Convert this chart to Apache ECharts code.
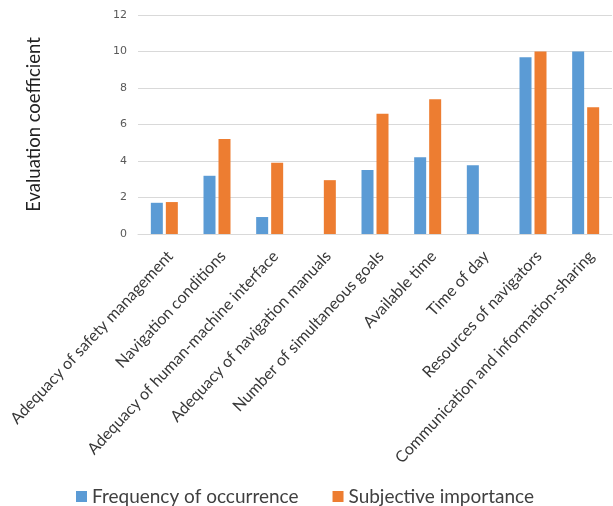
<!DOCTYPE html>
<html>
<head>
<meta charset="utf-8">
<script src="https://cdn.jsdelivr.net/npm/echarts@6/dist/echarts.min.js"></script>
<style>
  html, body { margin: 0; padding: 0; background: #fff; }
  #chart { width: 613px; height: 506px; }
</style>
</head>
<body>
<div id="chart"></div>
<script>
// Factors evaluated for navigational risk
const categories = [
  'Adequacy of safety management',
  'Navigation conditions',
  'Adequacy of human-machine interface',
  'Adequacy of navigation manuals',
  'Number of simultaneous goals',
  'Available time',
  'Time of day',
  'Resources of navigators',
  'Communication and information-sharing'
];
const frequency = [1.71, 3.19, 0.93, null, 3.51, 4.21, 3.77, 9.69, 10.0];
const importance = [1.75, 5.21, 3.91, 2.95, 6.59, 7.38, null, 10.0, 6.94];
const yTicks = { min: 0, max: 12, interval: 2 };

const chart = echarts.init(document.getElementById('chart'), null, { renderer: 'canvas' });

chart.setOption({
  animation: false,
  backgroundColor: '#ffffff',
  grid: { left: 138, right: 1, top: 15, bottom: 272, containLabel: false },
  legend: {
    top: 482,
    left: 71,
    icon: 'rect',
    itemWidth: 11,
    itemHeight: 11,
    itemGap: 34,
    textStyle: { fontFamily: 'Lato', fontSize: 19, color: '#404040' },
    data: ['Frequency of occurrence', 'Subjective importance']
  },
  xAxis: {
    type: 'category',
    data: categories,
    axisLine: { lineStyle: { color: '#d9d9d9' } },
    axisTick: { show: false },
    axisLabel: {
      interval: 0,
      rotate: 47,
      margin: 14,
      verticalAlign: 'top',
      fontFamily: 'Lato',
      fontSize: 16,
      color: '#383838'
    }
  },
  yAxis: {
    type: 'value',
    min: yTicks.min,
    max: yTicks.max,
    interval: yTicks.interval,
    name: 'Evaluation coefficient',
    nameLocation: 'middle',
    nameGap: 94,
    nameTextStyle: { fontFamily: 'Lato', fontSize: 18.5, color: '#222' },
    axisLine: { show: false },
    axisTick: { show: false },
    axisLabel: { margin: 11, fontFamily: 'DejaVu Sans', fontSize: 11, color: '#595959' },
    splitLine: { lineStyle: { color: '#d9d9d9' } }
  },
  series: [
    {
      name: 'Frequency of occurrence',
      type: 'bar',
      data: frequency,
      barWidth: 12,
      barGap: '25%',
      itemStyle: { color: '#5b9bd5' }
    },
    {
      name: 'Subjective importance',
      type: 'bar',
      data: importance,
      barWidth: 12,
      itemStyle: { color: '#ed7d31' }
    }
  ]
});
</script>
</body>
</html>
